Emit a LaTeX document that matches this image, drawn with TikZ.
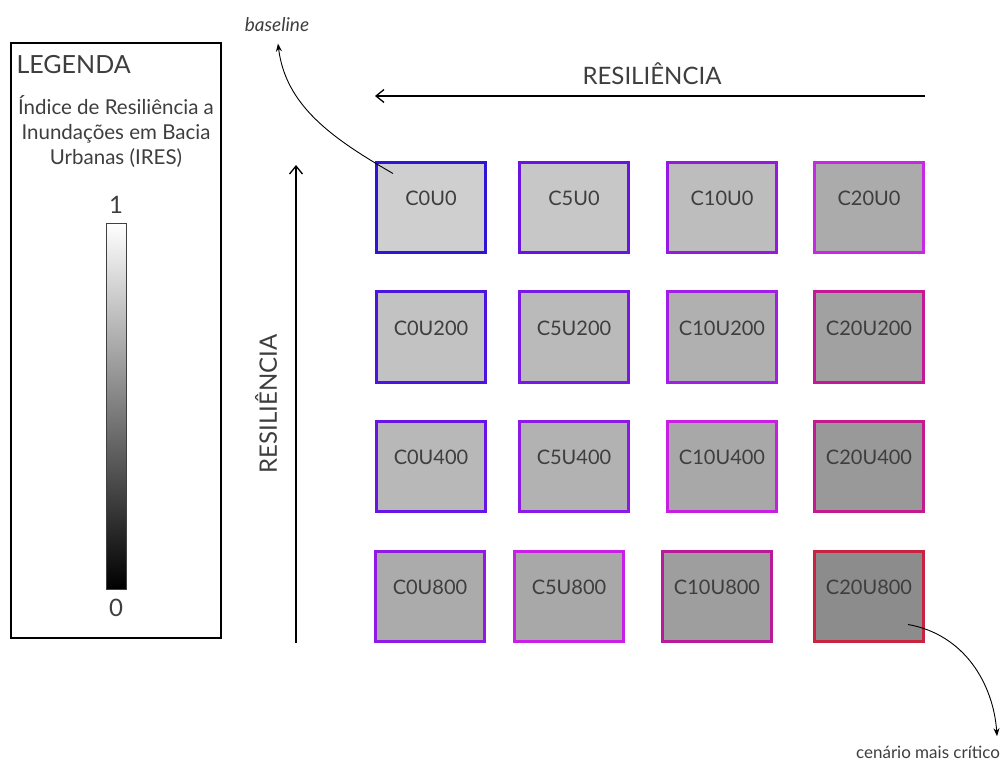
\documentclass[tikz,border=0pt]{standalone}
\usepackage{fontspec}
\setmainfont{Lato}
\usetikzlibrary{arrows.meta,positioning}
\definecolor{inkgray}{RGB}{62,62,62}
\definecolor{bA}{RGB}{45,20,215}
\definecolor{bB}{RGB}{105,20,225}
\definecolor{bC}{RGB}{150,25,225}
\definecolor{bD}{RGB}{200,40,230}
\definecolor{bE}{RGB}{75,20,225}
\definecolor{bF}{RGB}{120,25,230}
\definecolor{bG}{RGB}{160,30,230}
\definecolor{bH}{RGB}{195,25,150}
\definecolor{bI}{RGB}{105,20,230}
\definecolor{bJ}{RGB}{140,25,230}
\definecolor{bK}{RGB}{200,30,225}
\definecolor{bL}{RGB}{195,25,145}
\definecolor{bM}{RGB}{145,25,230}
\definecolor{bN}{RGB}{200,30,230}
\definecolor{bO}{RGB}{185,25,155}
\definecolor{bP}{RGB}{200,35,65}

\begin{document}
\begin{tikzpicture}[x=1pt,y=-1pt,
  scen/.style={draw,line width=3pt,minimum width=109pt,minimum height=90pt,inner sep=0pt,
    text height=6pt,text depth=10pt,text=inkgray,font=\fontsize{20}{20}\selectfont},
  axis/.style={line width=1.3pt,-{Straight Barb[length=8pt,width=13pt]}},
  note/.style={line width=0.9pt,-{Stealth[length=8pt,width=6pt]}},
  lbl/.style={text=inkgray,font=\fontsize{#1}{#1}\selectfont}]
  \useasboundingbox (0,0) rectangle (1001,767);

  % legenda
  \node[draw,line width=1.6pt,minimum width=210pt,minimum height=595pt,inner sep=0pt] (legend) at (116,340.5) {};
  \node[lbl=25,anchor=west] (title) at (13,65) {LEGENDA};
  \node[text=inkgray,align=center,font=\fontsize{20.5}{25}\selectfont] (index) at (116,132)
    {Índice de Resiliência a\\Inundações em Bacia\\Urbanas (IRES)};
  \node[draw=black!75,line width=0.8pt,top color=white,bottom color=black,
    minimum width=20pt,minimum height=366pt,inner sep=0pt] (bar) at (116,406) {};
  \node[lbl=24] (one) at (116,205) {1};
  \node[lbl=24] (zero) at (116,608) {0};

  % eixos
  \coordinate (hstart) at (925,96);
  \coordinate (hend) at (375,96);
  \draw[axis] (hstart) -- (hend);
  \node[lbl=24] (rtop) at (652,74) {RESILIÊNCIA};
  \coordinate (vstart) at (296,643);
  \coordinate (vend) at (296,165);
  \draw[axis] (vstart) -- (vend);
  \node[lbl=24,rotate=90] (rleft) at (266,404) {RESILIÊNCIA};

  % cenarios
  \node[scen,draw=bA,fill=black!19] (c0u0) at (431,208) {C0U0};
  \node[scen,draw=bB,fill=black!22] (c5u0) at (574,208) {C5U0};
  \node[scen,draw=bC,fill=black!26] (c10u0) at (722,208) {C10U0};
  \node[scen,draw=bD,fill=black!33] (c20u0) at (869,208) {C20U0};
  \node[scen,draw=bE,fill=black!24] (c0u200) at (431,337) {C0U200};
  \node[scen,draw=bF,fill=black!27] (c5u200) at (574,337) {C5U200};
  \node[scen,draw=bG,fill=black!31] (c10u200) at (722,337) {C10U200};
  \node[scen,draw=bH,fill=black!37] (c20u200) at (869,337) {C20U200};
  \node[scen,draw=bI,fill=black!28] (c0u400) at (431,466) {C0U400};
  \node[scen,draw=bJ,fill=black!30] (c5u400) at (574,466) {C5U400};
  \node[scen,draw=bK,fill=black!34] (c10u400) at (722,466) {C10U400};
  \node[scen,draw=bL,fill=black!40] (c20u400) at (869,466) {C20U400};
  \node[scen,draw=bM,fill=black!33] (c0u800) at (430,596) {C0U800};
  \node[scen,draw=bN,fill=black!34] (c5u800) at (569,596) {C5U800};
  \node[scen,draw=bO,fill=black!38] (c10u800) at (717,596) {C10U800};
  \node[scen,draw=bP,fill=black!45] (c20u800) at (869,596) {C20U800};

  % anotacoes
  \node[text=inkgray,font=\fontsize{19}{19}\selectfont\itshape] (base) at (277,25) {baseline};
  \coordinate (bstart) at ([xshift=18pt,yshift=-12pt]c0u0.north west);
  \draw[note,shorten >=8pt] (bstart) to[out=150,in=-83] (base.south);
  \node[lbl=17] (crit) at (928,752) {cenário mais crítico};
  \coordinate (cstart) at ([xshift=-17pt,yshift=18pt]c20u800.south east);
  \draw[note,shorten >=6pt] (cstart) to[out=-10,in=94] ([xshift=-6pt]crit.north east);
\end{tikzpicture}
\end{document}
